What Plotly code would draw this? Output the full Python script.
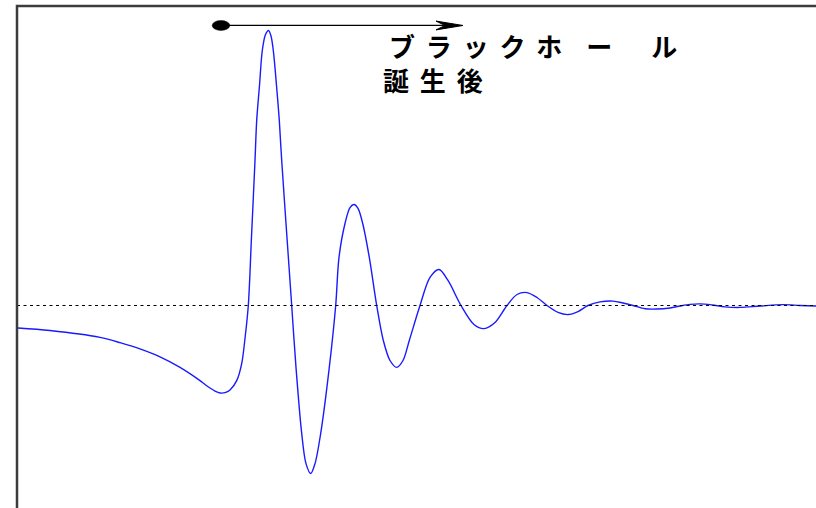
import plotly.graph_objects as go

# Gravitational-wave strain around the formation of a black hole
# (time in arbitrary units, strain normalised to the main peak)
time = [18, 50, 100, 120, 140, 160, 180, 200, 205, 210, 215, 220, 225, 230,
        236.7, 241.7, 245, 248.3, 251.5, 255,
        256.7, 259.5, 262.3, 265.5, 268.5, 271, 273.3, 276.5, 279.3, 281.7, 286.7,
        291.7, 296, 301.7, 306, 310.7, 315, 320.7, 329.3, 335.7, 339, 345, 350, 354,
        358, 362.7, 369.3, 376.7, 383.3, 390, 396.7, 403, 409.3, 420, 430, 439, 448,
        461, 474, 484, 495, 507, 517, 527, 537, 547, 558, 568, 578, 588, 600, 613,
        623, 633, 645, 657, 670, 680, 690, 700, 712, 725, 740, 760, 783, 800, 816]
strain = [-0.082, -0.091, -0.116, -0.135, -0.158, -0.187, -0.225, -0.273, -0.287,
          -0.300, -0.311, -0.318, -0.317, -0.307,
          -0.273, -0.211, -0.120, 0.0, 0.25, 0.527, 0.673, 0.80, 0.927, 0.985, 1.0, 0.98,
          0.927, 0.80, 0.673, 0.527, 0.262, 0.0, -0.225, -0.465, -0.575, -0.611,
          -0.575, -0.465, -0.225, 0.0, 0.175, 0.298, 0.356, 0.367, 0.353, 0.298,
          0.175, 0.0, -0.127, -0.200, -0.225, -0.200, -0.127, 0.0, 0.102, 0.131,
          0.091, 0.0, -0.069, -0.084, -0.062, 0.0, 0.04, 0.047, 0.029, 0.0, -0.025,
          -0.033, -0.022, 0.0, 0.013, 0.016, 0.009, 0.0, -0.012, -0.013, -0.009,
          -0.002, 0.004, 0.006, 0.002, -0.005, -0.007, -0.002, 0.003, 0.0, -0.002]

GAP = "\u2005\u2006"        # letter spacing between characters
EN, EM = "\u2002", "\u2003"
label_line1 = GAP.join(["ブ", "ラ", "ッ", "ク", "ホ"]) + EN + GAP + "ー" + EM + EN + "ル"
label_line2 = GAP.join(["誕", "生", "後"])

t_merge = 221      # dot marking the formation time
t_arrow_end = 463  # arrow tip
h_arrow = 1.018    # height of the arrow above the trace

fig = go.Figure()
fig.add_trace(go.Scatter(
    x=time, y=strain, mode="lines",
    line=dict(color="#1a1aff", width=1.4, shape="spline", smoothing=0.9),
    hoverinfo="skip", showlegend=False,
))

shapes = [
    # zero line
    dict(type="line", xref="paper", yref="y", x0=0, x1=1, y0=0, y1=0,
         line=dict(color="black", width=1, dash="3px,3.5px")),
    # frame
    dict(type="rect", xref="paper", yref="paper", x0=0, x1=1.2, y0=-0.2, y1=1,
         line=dict(color="#3c3c3c", width=2.5)),
    # arrow shaft
    dict(type="line", xref="x", yref="y", x0=t_merge, x1=t_arrow_end - 14,
         y0=h_arrow, y1=h_arrow, line=dict(color="black", width=1.3)),
    # arrow head
    dict(type="path", xref="x", yref="y",
         path=f"M{t_arrow_end},{h_arrow} L{t_arrow_end - 27},{h_arrow + 0.016} "
              f"L{t_arrow_end - 18},{h_arrow} L{t_arrow_end - 27},{h_arrow - 0.016} Z",
         fillcolor="black", line=dict(color="black", width=1)),
    # dot at the start of the arrow
    dict(type="circle", xref="x", yref="y", x0=t_merge - 8.8, x1=t_merge + 8.8,
         y0=h_arrow - 0.018, y1=h_arrow + 0.018, fillcolor="black",
         line=dict(color="black", width=0.5)),
]

label_font = dict(family="Noto Sans CJK JP", size=26, color="black", weight="bold")
annotations = [
    dict(x=388, y=0.946, xref="x", yref="y", text=label_line1, showarrow=False,
         xanchor="left", yanchor="middle", borderpad=0, font=label_font),
    dict(x=382, y=0.823, xref="x", yref="y", text=label_line2, showarrow=False,
         xanchor="left", yanchor="middle", borderpad=0, font=label_font),
]

fig.update_layout(
    width=816, height=508,
    margin=dict(l=17, r=0, t=6, b=0),
    paper_bgcolor="white", plot_bgcolor="white",
    xaxis=dict(range=[17, 816], visible=False, fixedrange=True),
    yaxis=dict(range=[-0.7362, 1.0888], visible=False, fixedrange=True),
    shapes=shapes, annotations=annotations,
)

fig.write_html("out.html")
